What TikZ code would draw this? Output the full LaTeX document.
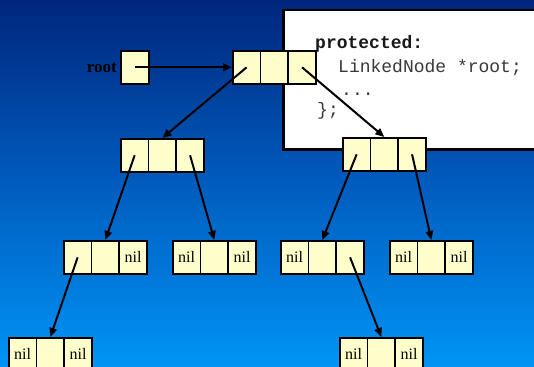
\documentclass[tikz,border=0pt]{standalone}
\usepackage{fontspec}
\setmainfont{Liberation Serif}
\newfontfamily\codefont{Liberation Mono}
\usetikzlibrary{arrows.meta}

\definecolor{bgtop}{RGB}{0,38,124}
\definecolor{bgmid}{RGB}{0,92,190}
\definecolor{bgbot}{RGB}{0,148,245}
\definecolor{cellfill}{RGB}{255,255,204}
\definecolor{codegrey}{RGB}{56,56,56}

\tikzset{
  cellbox/.style={draw=black, line width=1.6pt, fill=cellfill, minimum width=27.7pt,
    minimum height=33pt, inner sep=0pt, anchor=north west, font=\fontsize{16}{16}\selectfont},
  ptr/.style={line width=2pt, -{Triangle[length=9pt,width=7.5pt]}},
  codeline/.style={anchor=base west, inner sep=0pt, font=\codefont\fontsize{18}{18}\selectfont, text=codegrey},
}

% one list node: three cells, left edge #2, top edge #3
\newcommand\listnode[5]{%
  \node[cellbox] (#1-l) at (#2,#3) {#4};
  \node[cellbox] (#1-m) at (#2+27.7,#3) {};
  \node[cellbox] (#1-r) at (#2+55.4,#3) {#5};
}

\begin{document}
\begin{tikzpicture}[x=1pt,y=-1pt]
  \useasboundingbox (0,0) rectangle (534,366);
  \clip (0,0) rectangle (534,366);

  % background
  \shade[top color=bgtop, bottom color=bgbot, middle color=bgmid] (0,0) rectangle (534,366);

  % class declaration panel
  \node[draw=black, line width=2.5pt, fill=white, anchor=north west, minimum width=262pt,
        minimum height=139pt, inner sep=0pt] (panel) at (282,9) {};
  \node[codeline, text=black!90, font=\codefont\bfseries\fontsize{18}{18}\selectfont] (c1) at (315,49) {protected:};
  \node[codeline] (c2) at (338,73) {LinkedNode *root;};
  \node[codeline] (c3) at (341,96) {...};
  \node[codeline] (c4) at (317,116) {\};};

  % root pointer
  \node[cellbox, minimum width=28pt] (root) at (120,50) {};
  \node[anchor=east, inner sep=0pt, font=\bfseries\fontsize{17}{17}\selectfont] (rootlbl) at (117,68) {root};

  % tree nodes
  \listnode{t}{232}{50}{}{}
  \listnode{a}{120}{138}{}{}
  \listnode{b}{342}{137}{}{}
  \listnode{aa}{63}{240}{}{nil}
  \listnode{ab}{172}{240}{nil}{nil}
  \listnode{ba}{280}{240}{nil}{}
  \listnode{bb}{389}{240}{nil}{nil}
  \listnode{aaa}{8}{337}{nil}{nil}
  \listnode{bab}{339}{337}{nil}{nil}

  % links
  \draw[ptr] (root.center) -- (t-l.west);
  \draw[ptr] (t-l.center) -- (a-m.north);
  \draw[ptr] (t-r.center) -- (b-m.north);
  \draw[ptr] (a-l.center) -- (aa-m.north);
  \draw[ptr] (a-r.center) -- (ab-m.north);
  \draw[ptr] (b-l.center) -- (ba-m.north);
  \draw[ptr] (b-r.center) -- (bb-m.north);
  \draw[ptr] (aa-l.center) -- (aaa-m.north);
  \draw[ptr] (ba-r.center) -- (bab-m.north);
\end{tikzpicture}
\end{document}
